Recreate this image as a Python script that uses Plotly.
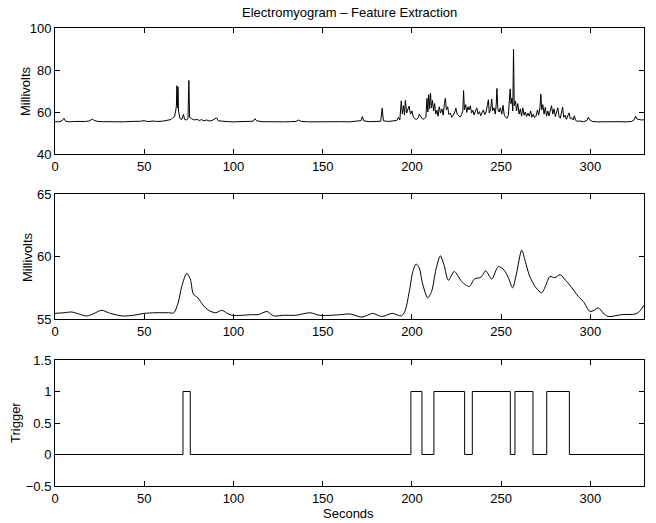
import plotly.graph_objects as go

# ---------------- data ----------------
emg_t = [0, 2, 4, 5, 6, 8, 11, 14, 17, 19, 21, 22, 24, 27, 30, 33, 36, 39, 42, 45, 48, 50, 52, 55, 57, 60, 62, 64, 65, 66, 67,
         67.6, 68, 68.3, 68.6, 68.9, 69.2, 70, 71, 72, 72.6, 73.5, 74.5, 75.0, 75.4, 76.5, 78, 79.5, 81, 82, 83.5, 85, 86.5,
         88, 89.5, 90.5, 91.5, 94, 97, 100, 103, 106, 109, 111, 112, 113, 116, 120, 124, 128, 132, 135, 136.5, 138, 142,
         146, 150, 155, 160, 165, 170, 171.5, 172.2, 173, 176, 180, 182.5, 183.3, 184, 187, 190, 191.5, 192.4, 193.2,
         194, 194.6, 195.3, 195.8, 196.3, 197, 197.6, 198.4, 199.2, 200, 200.8, 201.5, 202.5, 203.5, 204.1, 205, 206, 207,
         207.8, 208.4, 208.9, 209.4, 209.9, 210.4, 210.9, 211.5, 212.1, 212.7, 213.3, 214, 214.6, 215.3, 216, 216.8, 217.5,
         218.2, 218.7, 219.3, 220, 220.7, 221.5, 222.3, 223.2, 224, 224.6, 225.3, 226.2, 227, 227.8, 228.5, 228.9, 229.4,
         230.1, 230.7, 231.4, 232, 232.7, 233.4, 234.1, 234.8, 235.6, 236.3, 237, 237.8, 238.5, 239.3, 240, 240.8, 241.5,
         242.3, 242.8, 243.3, 244, 244.7, 245.2, 246, 246.7, 247.2, 247.6, 248.1, 248.8, 249.5, 250.3, 251, 251.7, 252.5,
         253.3, 254, 254.5, 255, 255.5, 256, 256.5, 256.9, 257.3, 258, 258.6, 259.3, 260, 260.7, 261.4, 262.1, 262.8, 263.5,
         264.2, 265, 265.7, 266.5, 267.2, 268, 268.7, 269.5, 270.3, 271, 271.7, 272.2, 272.7, 273.3, 274, 274.7, 275.4,
         276.1, 276.8, 277.5, 278.2, 278.9, 279.6, 280.3, 281, 281.7, 282.4, 283.1, 283.8, 284.4, 285, 285.8, 286.5, 287.2,
         288, 288.7, 289.5, 290.3, 291, 291.7, 292.5, 294, 296, 298, 298.8, 299.6, 301, 304, 308, 312, 316, 320, 323,
         324.5, 325.3, 326, 327, 328.5, 330]
emg_v = [55.4, 55.3, 55.8, 57.0, 55.6, 55.3, 55.5, 55.4, 55.5, 55.7, 56.6, 56.0, 55.5, 55.4, 55.3, 55.5, 55.4, 55.3, 55.5,
         55.4, 55.6, 55.9, 55.4, 55.7, 55.5, 55.6, 55.8, 56.0, 56.4, 57.3, 57.8,
         60.5, 62.8, 72.5, 62.0, 72.0, 60.5, 57.0, 56.4, 58.8, 56.5, 56.2, 56.8, 75.0, 57.5, 56.8, 56.2, 56.5, 55.9, 56.4,
         55.8, 56.2, 55.7, 56.0, 56.9, 57.2, 55.8, 55.5, 55.4, 55.3, 55.4, 55.3, 55.5, 55.6, 56.8, 55.8, 55.4, 55.3, 55.5,
         55.3, 55.4, 55.5, 56.2, 55.5, 55.3, 55.4, 55.3, 55.4, 55.4, 55.3, 55.5, 55.9, 57.8, 55.8, 55.4, 55.4, 55.6, 61.8,
         55.8, 55.5, 55.6, 56.0, 57.4, 56.2,
         65.3, 59.0, 63.0, 58.5, 65.5, 59.5, 61.0, 62.8, 59.0, 60.5, 57.5, 56.8, 56.5, 57.2, 58.9, 57.5, 56.6, 56.8,
         57.5, 66.5, 60.0, 68.3, 61.5, 69.0, 62.0, 65.5, 60.5, 64.0, 59.0, 60.8, 58.0, 62.5, 59.5, 61.5, 58.5,
         64.0, 66.5, 61.0, 62.5, 58.8, 59.5, 57.5, 58.5, 60.0, 61.8, 59.0, 58.2, 57.6, 58.8, 60.5, 70.2, 61.0,
         63.5, 59.8, 62.5, 61.0, 63.0, 59.5, 60.8, 58.6, 60.5, 62.0, 59.0, 60.2, 58.2, 59.5, 61.0, 58.8, 60.0,
         63.5, 65.8, 59.5, 61.0, 66.2, 60.5, 62.0, 59.0, 63.5, 71.2, 61.5, 60.0, 62.0, 59.0, 63.2, 58.5, 57.5,
         57.0, 58.5, 63.0, 71.0, 64.0, 66.5, 60.5, 90.0, 63.0, 65.2, 60.5, 64.0, 59.0, 61.5, 58.0, 62.0, 58.5, 60.0,
         57.8, 59.5, 58.0, 60.5, 57.5, 59.0, 57.3, 58.0, 61.0, 58.5, 62.0, 68.5, 61.0, 63.5, 59.0, 62.2, 58.0,
         60.5, 58.2, 61.5, 63.0, 59.0, 61.5, 57.8, 60.5, 62.0, 58.0, 57.0, 60.0, 62.3, 57.5, 58.5, 56.5, 58.0,
         59.6, 56.8, 57.2, 56.2, 58.2, 56.0, 55.6, 55.7, 55.4, 55.9, 57.5, 56.3, 55.5, 55.3, 55.4, 55.3, 55.4, 55.3, 55.5,
         56.3, 58.0, 56.7, 56.4, 56.2, 56.3]

env_t = [0, 5, 9.3, 13.5, 17.7, 22, 26, 31, 38, 44, 50, 56, 63.5, 66.5, 69, 71, 73.8, 75.8, 77.5, 80, 83, 86, 90, 93.4,
         96, 99, 105, 110, 114, 118.8, 122.5, 128, 135, 143, 148, 155, 160, 165.5, 172, 178, 183, 189, 194, 196, 198.5,
         200.5, 202.3, 204, 206, 208.8, 211, 213.5, 215.9, 218, 220.4, 223.7, 227.8, 232.1, 235, 238.7, 241.3, 244.7,
         248.4, 251.7, 254, 256.4, 258.5, 261.5, 263.5, 266, 269.5, 272.7, 275, 277.3, 280, 283, 286, 288.5, 293.2, 296,
         299.7, 302, 304.4, 307, 310, 317.5, 325, 327.5, 330]
env_v = [55.45, 55.5, 55.56, 55.4, 55.24, 55.45, 55.7, 55.45, 55.24, 55.3, 55.45, 55.5, 55.5, 55.5, 56.3, 57.6, 58.65,
         58.2, 57.0, 56.7, 56.1, 55.7, 55.5, 55.7, 55.5, 55.3, 55.3, 55.35, 55.35, 55.6, 55.25, 55.3, 55.3, 55.5, 55.3,
         55.3, 55.35, 55.4, 55.15, 55.45, 55.2, 55.45, 55.25, 55.6, 57.2, 58.8, 59.4, 59.1, 57.8, 56.7, 57.2, 59.0, 60.05,
         59.3, 58.1, 58.8, 58.0, 57.6, 58.2, 58.35, 58.85, 58.2, 59.2, 58.9, 58.3, 57.5, 58.6, 60.5, 59.6, 58.4, 57.5,
         57.1, 57.7, 58.4, 58.3, 58.55, 58.1, 57.7, 56.8, 56.4, 55.6, 55.7, 55.9, 55.5, 55.2, 55.35, 55.4, 55.6, 56.1]

trig_t = [0, 71.7, 75.8, 199.4, 205.6, 212.3, 229.5, 233.8, 255.1, 257.7, 267.8, 275.5, 288.2, 330]
trig_v = [0, 1, 0, 1, 0, 1, 0, 1, 0, 1, 0, 1, 0, 0]

title_text = "Electromyogram \u2013 Feature Extraction"
x_label = "Seconds"
y_labels = ["Millivolts", "Millivolts", "Trigger"]

# ---------------- figure ----------------
FONT = "Liberation Sans, Arial, Helvetica, sans-serif"
fig = go.Figure()
line = dict(color="black", width=1)
fig.add_trace(go.Scatter(x=emg_t, y=emg_v, mode="lines", line=line, xaxis="x", yaxis="y"))
fig.add_trace(go.Scatter(x=env_t, y=env_v, mode="lines", line=dict(color="black", width=1, shape="spline", smoothing=0.8),
                         xaxis="x2", yaxis="y2"))
fig.add_trace(go.Scatter(x=trig_t, y=trig_v, mode="lines", line=dict(color="black", width=1, shape="hv"),
                         xaxis="x3", yaxis="y3"))

ax_common = dict(showline=True, linecolor="black", linewidth=1, mirror="ticks", ticks="inside", ticklen=5,
                 tickcolor="black", showgrid=False, zeroline=False, automargin=False,
                 tickfont=dict(family=FONT, size=13, color="black"))
doms = [[0.7249, 1.0], [0.3646, 0.6376], [0.0, 0.2751]]
yr = [[40, 100], [55, 65], [-0.5, 1.5]]
ydt = [20, 5, 0.5]
for i in range(3):
    s = "" if i == 0 else str(i + 1)
    fig.layout["xaxis" + s] = dict(ax_common, range=[0, 330], dtick=50, tick0=0, anchor="y" + s, domain=[0, 1])
    fig.layout["yaxis" + s] = dict(ax_common, range=yr[i], dtick=ydt[i], anchor="x" + s, domain=doms[i])

ann = [dict(text=title_text, x=0.5, y=1.0328, xref="paper", yref="paper", showarrow=False,
            xanchor="center", yanchor="middle", font=dict(family=FONT, size=13, color="black")),
       dict(text=x_label, x=0.499, y=-0.059, xref="paper", yref="paper", showarrow=False,
            xanchor="center", yanchor="middle", font=dict(family=FONT, size=13, color="black"))]
yl_x = [-0.0492, -0.0467, -0.0679]
for i in range(3):
    ann.append(dict(text=y_labels[i], x=yl_x[i], y=(doms[i][0] + doms[i][1]) / 2, xref="paper", yref="paper",
                    showarrow=False, textangle=-90, xanchor="center", yanchor="middle",
                    font=dict(family=FONT, size=13, color="black")))

# page body has an 8px margin, so the figure is sized / offset to land on the same pixels
fig.update_layout(width=648, height=515, margin=dict(l=47, r=12, t=20, b=37), showlegend=False,
                  plot_bgcolor="white", paper_bgcolor="white", annotations=ann)

fig.write_html("out.html")
